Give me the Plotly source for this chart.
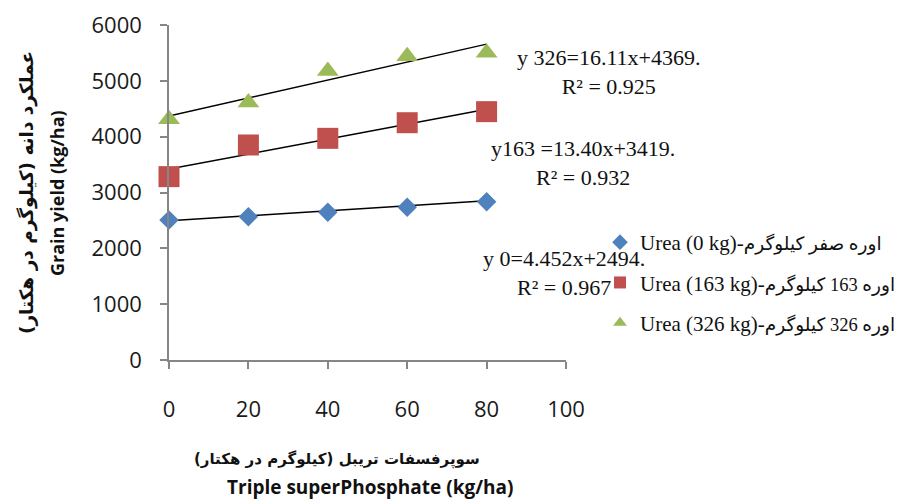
import plotly.graph_objects as go

# ---- data ----
phosphate = [0, 20, 40, 60, 80]
urea0 = [2508, 2567, 2645, 2735, 2836]
urea163 = [3284, 3851, 3970, 4250, 4448]
urea326 = [4310, 4610, 5175, 5440, 5505]

series_latin = ["Urea (0 kg)-", "Urea (163 kg)-", "Urea (326 kg)-"]
series_persian = ["اوره صفر کیلوگرم", "اوره 163 کیلوگرم", "اوره 326 کیلوگرم"]
slopes = [4.452, 13.40, 16.11]
intercepts = [2494, 3419, 4369]
equations = [
    "y 0=4.452x+2494.<br>R² = 0.967",
    "y163 =13.40x+3419.<br>R² = 0.932",
    "y 326=16.11x+4369.<br>R² = 0.925",
]
x_ticks = [0, 20, 40, 60, 80, 100]
y_ticks = [0, 1000, 2000, 3000, 4000, 5000, 6000]

# ---- layout helpers (pixel -> paper) ----
L, R, T, B = 169, 337, 25, 140
W, H = 903, 500
PW, PH = W - L - R, H - T - B


def px(x):
    return (x - L) / PW


def py(y):
    return (H - B - y) / PH


colors = ["#4F81BD", "#C0504D", "#9BBB59"]
symbols = ["diamond", "square", "triangle-up"]
sizes = [15, 21, 19]
values = [urea0, urea163, urea326]

fig = go.Figure()

# trend lines
for m, b in zip(slopes, intercepts):
    xs = [phosphate[0], phosphate[-1]]
    fig.add_trace(go.Scatter(
        x=xs, y=[b + m * v for v in xs], mode="lines", cliponaxis=False,
        line=dict(color="black", width=1.5), showlegend=False, hoverinfo="skip"))

for i in range(3):
    name = series_latin[i] + "<span style='font-size:18.5px'>" + series_persian[i] + "</span>"
    fig.add_trace(go.Scatter(
        x=phosphate, y=values[i], mode="markers", name=name,
        legendgroup=f"g{i}", cliponaxis=False,
        marker=dict(symbol=symbols[i], color=colors[i], size=sizes[i], line=dict(width=0))))

axis_font = dict(family="Open Sans, DejaVu Sans", size=22, color="#1a1a1a")

fig.update_layout(
    template="none",
    width=W, height=H,
    margin=dict(l=L, r=R, t=T, b=B, pad=0, autoexpand=False),
    plot_bgcolor="white", paper_bgcolor="white",
    xaxis=dict(range=[0, 100], tickvals=x_ticks, showgrid=False, zeroline=False,
               automargin=False,
               showline=True, linecolor="#868686", linewidth=1.5,
               ticks="outside", ticklen=7, tickcolor="#868686", tickwidth=1.5,
               tickfont=axis_font, ticklabelstandoff=22),
    yaxis=dict(range=[0, 6000], tickvals=y_ticks, showgrid=False, zeroline=False,
               automargin=False,
               showline=True, linecolor="#868686", linewidth=1.5,
               ticks="outside", ticklen=7, tickcolor="#868686", tickwidth=1.5,
               tickfont=axis_font, ticklabelstandoff=14),
    legend=dict(x=px(600), y=py(222), xanchor="left", yanchor="top",
                font=dict(family="Liberation Serif, DejaVu Sans", size=21, color="#111"),
                itemsizing="constant", tracegroupgap=10, bgcolor="rgba(0,0,0,0)"),
    showlegend=True,
)

# equations
eq_pos = [(564, 273), (583, 163), (609, 72)]
for txt, (ex, ey) in zip(equations, eq_pos):
    fig.add_annotation(x=px(ex), y=py(ey), xref="paper", yref="paper", text=txt,
                       showarrow=False, align="center", xanchor="center", yanchor="middle",
                       font=dict(family="Liberation Serif", size=22, color="#111"))

title_font = dict(family="Open Sans, DejaVu Sans", size=18, color="#111")
# y title
fig.add_annotation(x=px(27), y=py(193), xref="paper", yref="paper",
                   text="<b>عملکرد دانه (کیلوگرم در هکتار)</b>", textangle=-90,
                   showarrow=False, xanchor="center", yanchor="middle",
                   font=dict(family="DejaVu Sans", size=18.5, color="#111"))
fig.add_annotation(x=px(57), y=py(193), xref="paper", yref="paper",
                   text="<b>Grain yield (kg/ha)</b>", textangle=-90,
                   showarrow=False, xanchor="center", yanchor="middle", font=title_font)
# x title
fig.add_annotation(x=px(337), y=py(459), xref="paper", yref="paper",
                   text="<b>سوپرفسفات تریبل (کیلوگرم در هکتار)</b>",
                   showarrow=False, xanchor="center", yanchor="middle",
                   font=dict(family="DejaVu Sans", size=15, color="#111"))
fig.add_annotation(x=px(370), y=py(487), xref="paper", yref="paper",
                   text="<b>Triple superPhosphate (kg/ha)</b>",
                   showarrow=False, xanchor="center", yanchor="middle",
                   font=dict(family="Open Sans, DejaVu Sans", size=19, color="#111"))

fig.write_html("out.html", config={"displayModeBar": False},
               post_script="document.body.style.margin='0';")
